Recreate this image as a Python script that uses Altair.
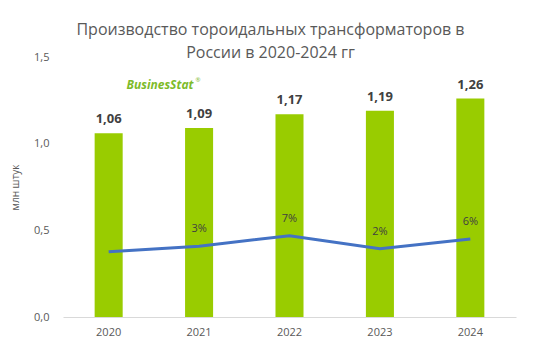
import altair as alt
import pandas as pd

years = ["2020", "2021", "2022", "2023", "2024"]
production = [1.06, 1.09, 1.17, 1.19, 1.26]
prod_labels = ["1,06", "1,09", "1,17", "1,19", "1,26"]
growth = [0.004, 0.028, 0.073, 0.017, 0.059]
growth_labels = ["", "3%", "7%", "2%", "6%"]

df = pd.DataFrame({
    "year": years,
    "prod": production,
    "plabel": prod_labels,
    "growth": growth,
    "glabel": growth_labels,
})

FONT = "Open Sans"
GREY = "#595959"

x = alt.X("year:N", title=None, sort=years,
          scale=alt.Scale(paddingInner=0.69, paddingOuter=0.35),
          axis=alt.Axis(labelAngle=0, labelFontSize=11, labelColor=GREY, labelFont=FONT,
                        domainColor="#d9d9d9", ticks=False, labelPadding=9))

y_prim = alt.Y("prod:Q", title="млн  штук",
               scale=alt.Scale(domain=[0, 1.5]),
               axis=alt.Axis(values=[0, 0.5, 1.0, 1.5], grid=False, domain=False, ticks=False,
                             labelExpr="replace(format(datum.value, '.1f'), '.', ',')",
                             labelFontSize=11, labelColor=GREY, labelFont=FONT, labelPadding=14,
                             titleFontSize=10, titleColor=GREY, titleFont=FONT,
                             titleFontWeight="normal", titlePadding=13))

base = alt.Chart(df)

bars = base.mark_bar(color="#99cc00").encode(x=x, y=y_prim)
bar_text = base.mark_text(dy=-14, fontSize=13, fontWeight="bold", color="#404040", font=FONT).encode(
    x=x, y=y_prim, text="plabel:N")

y_sec = alt.Y("growth:Q", scale=alt.Scale(domain=[-0.28, 0.85]), axis=None)
line = base.mark_line(color="#4472c4", strokeWidth=3).encode(x=x, y=y_sec)
line_text = base.mark_text(dy=-17, fontSize=11, color="#404040", font=FONT).encode(
    x=x, y=y_sec, text="glabel:N")

logo = alt.Chart(pd.DataFrame({"t": ["BusinesStat"]})).mark_text(
    fontSize=12, fontWeight="bold", fontStyle="italic", color="#7dbb2a", font=FONT
).encode(x=alt.value(97), y=alt.value(28), text="t:N")
logo_r = alt.Chart(pd.DataFrame({"t": ["®"]})).mark_text(
    fontSize=6, color="#7dbb2a", font=FONT
).encode(x=alt.value(135), y=alt.value(23), text="t:N")

left = alt.layer(bars, bar_text)
right = alt.layer(line, line_text, logo, logo_r)

chart = alt.layer(left, right).resolve_scale(y="independent").properties(
    width=453, height=260,
    autosize=alt.AutoSizeParams(type="none"),
    padding={"left": 55, "top": 49, "right": 17, "bottom": 30},
    title=alt.TitleParams(
        text=["Производство тороидальных трансформаторов в", "России в 2020-2024 гг"],
        fontSize=16, font=FONT, fontWeight="normal", color=GREY,
        lineHeight=23, anchor="middle", dx=-19, offset=-10),
).configure_view(stroke=None)

chart.save("out.html", embed_options={"renderer": "svg", "actions": False})
